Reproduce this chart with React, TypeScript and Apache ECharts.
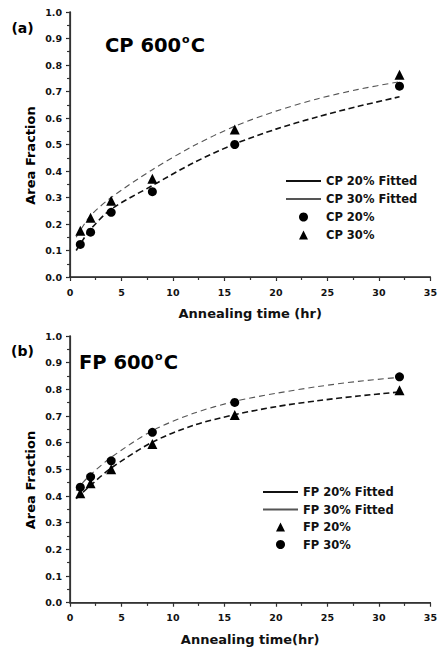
import React, { useEffect, useRef } from "react";
import * as echarts from "echarts";

const TIME = [1, 2, 4, 8, 16, 32];
const CP20 = [0.123, 0.169, 0.244, 0.322, 0.5, 0.72];
const CP30 = [0.175, 0.224, 0.288, 0.371, 0.557, 0.763];
const FP20 = [0.41, 0.448, 0.5, 0.595, 0.704, 0.797];
const FP30 = [0.433, 0.472, 0.532, 0.639, 0.751, 0.847];

const FIT_T = [0.6, 1, 2, 4, 8, 12, 16, 20, 24, 28, 32];
const CP20_FIT = [0.1, 0.125, 0.18, 0.256, 0.345, 0.431, 0.502, 0.558, 0.604, 0.644, 0.68];
const CP30_FIT = [0.15, 0.176, 0.232, 0.3, 0.405, 0.495, 0.569, 0.626, 0.672, 0.708, 0.737];
const FP20_FIT = [0.39, 0.405, 0.44, 0.505, 0.602, 0.665, 0.705, 0.735, 0.757, 0.775, 0.79];
const FP30_FIT = [0.42, 0.44, 0.48, 0.545, 0.645, 0.71, 0.755, 0.785, 0.81, 0.83, 0.845];

const X_TITLE_A = "Annealing time (hr)";
const X_TITLE_B = "Annealing time(hr)";
const Y_TITLE = "Area Fraction";

const FONT = "DejaVu Sans";
const TRI_ICON = "path://M0 10 L5 0 L10 10 Z";

const pairs = (xs: number[], ys: number[]) => xs.map((x, i) => [x, ys[i]]);

export default function App() {
  const ref = useRef<HTMLDivElement>(null);
  useEffect(() => {
    if (!ref.current) return;
    const chart = echarts.init(ref.current, null, { renderer: "svg" });
    const axisLine = { lineStyle: { color: "#222", width: 1.5 } };
    const labelStyle = { fontFamily: FONT, fontWeight: "bold" as const, fontSize: 9.5, color: "#111" };
    const mkX = (grid: number, name: string) => [
      {
        type: "value", gridIndex: grid, position: "bottom", min: 0, max: 35, interval: 5,
        axisLine: { show: true, ...axisLine },
        axisTick: { show: true, inside: false, length: 4, lineStyle: { color: "#222", width: 1.2 } },
        minorTick: { show: true, splitNumber: 2, length: 3, lineStyle: { color: "#222", width: 1.2 } },
        axisLabel: { ...labelStyle, margin: 10 },
        splitLine: { show: false },
        name, nameLocation: "middle", nameGap: 30,
        nameTextStyle: { fontFamily: FONT, fontWeight: "bold", fontSize: 13, color: "#111" },
      },
      {
        type: "value", gridIndex: grid, position: "top", min: 0, max: 35, interval: 5,
        axisLine: { show: true, lineStyle: { color: "#333", width: 1.2 } },
        axisTick: { show: true, inside: true, length: 3, lineStyle: { color: "#333" } },
        minorTick: { show: true, splitNumber: 2, length: 3, lineStyle: { color: "#333" } },
        axisLabel: { show: false },
        splitLine: { show: false },
      },
    ];
    const mkY = (grid: number) => [
      {
        type: "value", gridIndex: grid, position: "left", min: 0, max: 1, interval: 0.1,
        axisLine: { show: true, ...axisLine },
        axisTick: { show: true, inside: false, length: 4, lineStyle: { color: "#222", width: 1.2 } },
        minorTick: { show: true, splitNumber: 2, length: 2.5, lineStyle: { color: "#222", width: 1.2 } },
        axisLabel: { ...labelStyle, margin: 8, formatter: (v: number) => v.toFixed(1) },
        splitLine: { show: false },
      },
      {
        type: "value", gridIndex: grid, position: "right", min: 0, max: 1, interval: 0.1,
        axisLine: { show: true, lineStyle: { color: "#333", width: 1.2 } },
        axisTick: { show: true, inside: true, length: 3, lineStyle: { color: "#333" } },
        minorTick: { show: true, splitNumber: 2, length: 3, lineStyle: { color: "#333" } },
        axisLabel: { show: false },
        splitLine: { show: false },
      },
    ];
    const thick = { color: "#111", width: 1.6, type: [6, 3.5] };
    const thin = { color: "#555", width: 1.1, type: [6, 4] };
    const fit = (name: string, xi: number, data: number[], ls: any) => ({
      name, type: "line", xAxisIndex: xi, yAxisIndex: xi, data: pairs(FIT_T, data),
      smooth: 0.3, symbol: "none", lineStyle: ls, itemStyle: { color: ls.color }, z: 2,
    });
    const pts = (name: string, xi: number, data: number[], symbol: string, size: number) => ({
      name, type: "scatter", xAxisIndex: xi, yAxisIndex: xi, data: pairs(TIME, data),
      symbol, symbolSize: size, itemStyle: { color: "#000", opacity: 1 }, z: 5,
    });
    const legendText = { fontFamily: FONT, fontWeight: "bold" as const, fontSize: 11.5, color: "#111" };
    const lineItem = (name: string) => ({ name, lineStyle: { type: "solid" }, itemStyle: { opacity: 0 } });
    const triItem = (name: string) => ({ name, icon: TRI_ICON });
    const titleText = (x: number, y: number, main: string) => ({
      type: "text", x, y,
      style: {
        text: `{a|${main}}{s|o}{a|C}`, verticalAlign: "middle",
        rich: {
          a: { fontFamily: FONT, fontWeight: "bold", fontSize: 19.5, fill: "#000" },
          s: { fontFamily: FONT, fontWeight: "bold", fontSize: 11, fill: "#000", padding: [0, 1, 12, 1] },
        },
      },
    });
    const plainText = (x: number, y: number, text: string, size: number, rot = 0) => ({
      type: "text", x, y, rotation: rot,
      style: { text, align: "center", verticalAlign: "middle", fontFamily: FONT, fontWeight: "bold", fontSize: size, fill: "#000" },
    });
    const legendBase = {
      orient: "vertical", itemWidth: 35, itemHeight: 9, padding: 0,
      selectedMode: false, textStyle: legendText, symbolKeepAspect: true,
    };
    chart.setOption({
      animation: false,
      backgroundColor: "#fff",
      grid: [
        { left: 70, top: 12, width: 360.5, height: 265, containLabel: false },
        { left: 70, top: 336, width: 360.5, height: 266.7, containLabel: false },
      ],
      xAxis: [...mkX(0, X_TITLE_A), ...mkX(1, X_TITLE_B)],
      yAxis: [...mkY(0), ...mkY(1)],
      legend: [
        {
          ...legendBase, left: 285, top: 175, itemGap: 6,
          data: [lineItem("CP 20% Fitted"), lineItem("CP 30% Fitted"), { name: "CP 20%" }, triItem("CP 30%")],
        },
        {
          ...legendBase, left: 262, top: 486, itemGap: 5.5,
          data: [lineItem("FP 20% Fitted"), lineItem("FP 30% Fitted"), triItem("FP 20%"), { name: "FP 30%" }],
        },
      ],
      graphic: [
        plainText(22.5, 28, "(a)", 14),
        plainText(22.5, 351, "(b)", 14),
        titleText(105, 45, "CP 600"),
        titleText(79, 362, "FP 600"),
        plainText(30, 155.5, Y_TITLE, 13, Math.PI / 2),
        plainText(30, 480, Y_TITLE, 13, Math.PI / 2),
      ],
      series: [
        fit("CP 20% Fitted", 0, CP20_FIT, thick),
        fit("CP 30% Fitted", 0, CP30_FIT, thin),
        pts("CP 20%", 0, CP20, "circle", 9),
        pts("CP 30%", 0, CP30, "triangle", 10),
        fit("FP 20% Fitted", 2, FP20_FIT, thick),
        fit("FP 30% Fitted", 2, FP30_FIT, thin),
        pts("FP 20%", 2, FP20, "triangle", 10),
        pts("FP 30%", 2, FP30, "circle", 9),
      ],
    });
    return () => chart.dispose();
  }, []);
  return <div ref={ref} style={{ position: "absolute", left: 0, top: 0, width: 440, height: 651 }} />;
}
